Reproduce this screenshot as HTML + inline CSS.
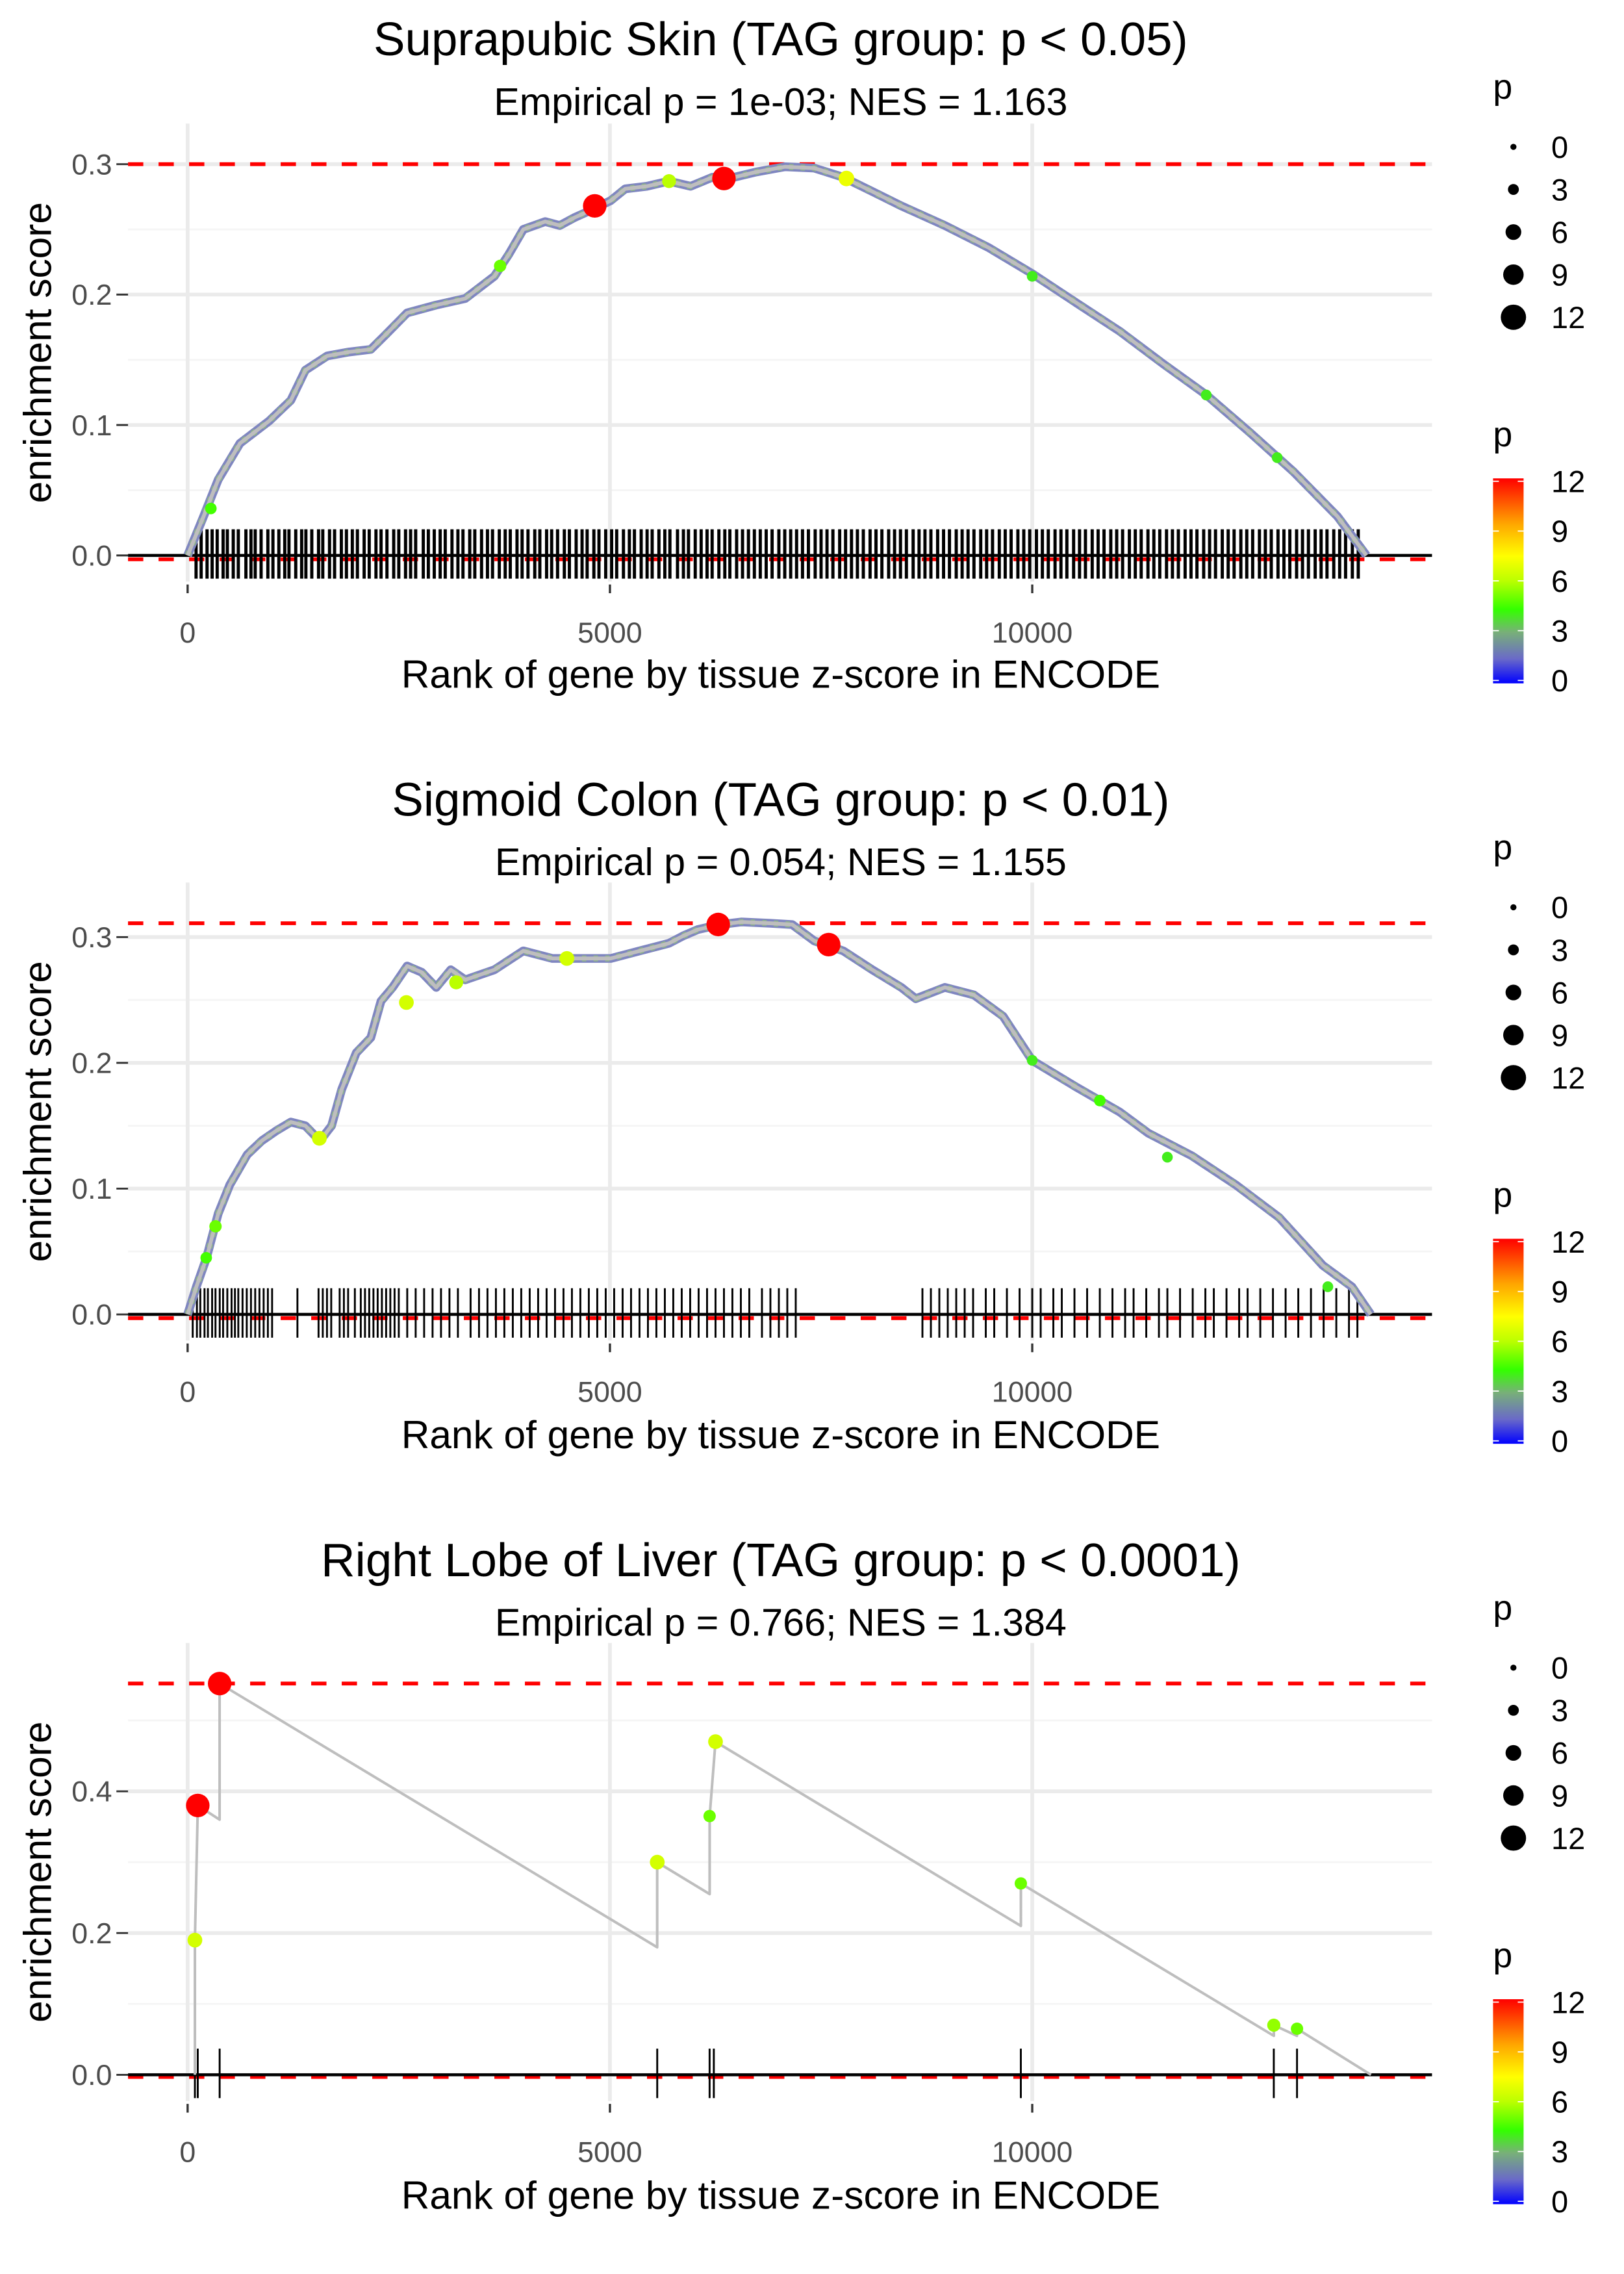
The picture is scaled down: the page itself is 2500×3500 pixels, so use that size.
<!DOCTYPE html>
<html><head><meta charset="utf-8">
<style>
html,body{margin:0;padding:0;background:#fff;}
svg{display:block;font-family:"Liberation Sans",sans-serif;}
</style></head>
<body>
<svg id="chart" width="2500" height="3500" viewBox="0 0 1117 1564" xmlns="http://www.w3.org/2000/svg">
<defs>
<linearGradient id="pgrad" x1="0" y1="1" x2="0" y2="0">
<stop offset="0" stop-color="#0000ff"/>
<stop offset="0.12" stop-color="#6a6ac8"/>
<stop offset="0.25" stop-color="#78b078"/>
<stop offset="0.36" stop-color="#33ff00"/>
<stop offset="0.5" stop-color="#bbff00"/>
<stop offset="0.62" stop-color="#ffff00"/>
<stop offset="0.78" stop-color="#ffa500"/>
<stop offset="1" stop-color="#ff0000"/>
</linearGradient>
</defs>
</svg>
<script>
// ---------- Panel 1 data ----------
const p1Rank=[0,189,361,620,964,1222,1394,1652,1910,2168,2341,2599,2943,3287,3631,3803,3975,4234,4406,4578,4750,5008,5180,5438,5697,5955,6213,6471,6729,7073,7418,7762,8106,8450,8966,9483,9999,10515,11032,11548,12064,12581,13097,13613,13957];
const p1ES=[0,0.030,0.058,0.086,0.103,0.119,0.142,0.153,0.156,0.158,0.169,0.186,0.192,0.197,0.214,0.231,0.250,0.256,0.253,0.259,0.264,0.272,0.281,0.283,0.287,0.283,0.290,0.290,0.294,0.298,0.297,0.290,0.279,0.268,0.253,0.236,0.216,0.194,0.172,0.147,0.123,0.094,0.064,0.030,0];
const p1PtRank=[275,3700,4820,5700,6350,7800,10000,12060,12900];
const p1PtES=[0.036,0.222,0.268,0.287,0.289,0.289,0.214,0.123,0.075];
const p1PtP=[4.5,5,12,6,12,7,4,4,4];
const p1Hits=[100,160,230,290,350,420,470,540,600,690,750,800,870,950,1010,1080,1150,1200,1280,1350,1400,1470,1550,1600,1680,1740,1820,1880,1950,2010,2090,2150,2230,2290,2360,2440,2500,2580,2640,2700,2790,2850,2920,2990,3050,3130,3200,3260,3340,3400,3480,3550,3610,3690,3760,3820,3900,3960,4030,4110,4170,4250,4310,4380,4460,4520,4600,4670,4730,4810,4870,4950,5020,5080,5160,5230,5290,5370,5440,5500,5580,5650,5710,5800,5870,5930,6010,6080,6150,6210,6290,6360,6420,6500,6570,6640,6710,6780,6850,6920,7000,7070,7140,7210,7280,7350,7430,7500,7570,7640,7720,7790,7860,7930,8000,8080,8150,8220,8300,8370,8440,8510,8590,8660,8730,8800,8880,8950,9020,9100,9170,9240,9310,9390,9460,9530,9610,9680,9750,9830,9900,9970,10050,10120,10190,10270,10340,10410,10490,10560,10630,10710,10780,10850,10930,11000,11070,11150,11220,11290,11370,11440,11510,11590,11660,11730,11810,11880,11950,12030,12100,12170,12250,12320,12390,12470,12540,12610,12690,12760,12830,12910,12980,13050,13130,13200,13270,13350,13420,13490,13570,13640,13710,13790,13860];
// ---------- Panel 2 data ----------
const p2Rank=[0,103,224,361,499,706,878,1050,1222,1394,1566,1704,1824,1996,2168,2289,2427,2599,2771,2943,3115,3287,3631,3975,4320,4664,5008,5352,5697,5869,6041,6299,6557,6901,7159,7418,7762,8106,8450,8622,8966,9310,9655,9999,10515,11032,11376,11892,12409,12925,13441,13785,14009];
const p2ES=[0,0.022,0.045,0.080,0.103,0.127,0.138,0.146,0.153,0.150,0.138,0.150,0.179,0.208,0.220,0.249,0.260,0.277,0.272,0.260,0.274,0.266,0.274,0.289,0.283,0.283,0.283,0.289,0.295,0.301,0.306,0.310,0.312,0.311,0.310,0.297,0.289,0.274,0.260,0.251,0.260,0.254,0.237,0.202,0.181,0.161,0.144,0.126,0.103,0.077,0.039,0.022,0];
const p2PtRank=[220,330,1560,2590,3180,4490,6282,7590,10000,10800,11600,13500];
const p2PtES=[0.045,0.070,0.140,0.248,0.264,0.283,0.310,0.294,0.202,0.170,0.125,0.022];
const p2PtP=[4.5,5,6.5,6.5,6,6.5,12,12,4,4.5,4,4];
const p2Hits=[60,110,150,200,240,290,330,380,420,470,520,560,600,650,700,750,800,850,900,950,1000,1300,1550,1600,1650,1700,1800,1850,1900,1980,2050,2100,2150,2200,2250,2300,2350,2400,2450,2500,2600,2700,2800,2900,3000,3100,3200,3350,3450,3550,3650,3750,3850,3950,4050,4150,4250,4350,4450,4550,4650,4750,4850,4950,5050,5150,5250,5350,5450,5550,5650,5750,5850,5950,6050,6150,6250,6350,6450,6550,6650,6800,6900,7000,7100,7200,8700,8800,8900,9000,9100,9200,9300,9450,9550,9700,9850,10000,10100,10250,10350,10500,10650,10800,10950,11100,11200,11350,11500,11600,11750,11900,12050,12150,12300,12450,12550,12700,12850,13000,13150,13300,13450,13600,13750,13850];
// ---------- Panel 3 data ----------
const p3Rank=[86,86,120,379,379,5560,5560,6180,6180,6250,9865,9865,12860,12860,13135,13135,14010];
const p3ES=[0,0.19,0.38,0.36,0.552,0.18,0.30,0.255,0.365,0.47,0.21,0.27,0.055,0.07,0.055,0.065,0];
const p3PtRank=[86,120,379,5560,6180,6250,9865,12860,13135];
const p3PtES=[0.19,0.38,0.552,0.30,0.365,0.47,0.27,0.07,0.065];
const p3PtP=[6.5,12,12,6.5,5,6.5,5,5.5,5];
const p3Hits=[86,120,379,5560,6180,6230,9865,12860,13135];
// ---------- Labels ----------
const titles=["Suprapubic Skin (TAG group: p < 0.05)","Sigmoid Colon (TAG group: p < 0.01)","Right Lobe of Liver (TAG group: p < 0.0001)"];
const subtitles=["Empirical p = 1e-03; NES = 1.163","Empirical p = 0.054; NES = 1.155","Empirical p = 0.766; NES = 1.384"];
const xTicks=[0,5000,10000];
const yTicks1=[0,0.1,0.2,0.3];
const yTicks3=[0,0.2,0.4];
const maxES=[0.3,0.311,0.552];
const minES=[-0.003,-0.003,-0.003];
const legendVals=[0,3,6,9,12];

const NS="http://www.w3.org/2000/svg";
const svg=document.getElementById('chart');
function mk(tag,attrs,parent){const e=document.createElementNS(NS,tag);for(const k in attrs)e.setAttribute(k,attrs[k]);(parent||svg).appendChild(e);return e;}
function pColor(p){
  const st=[[0,[0,0,255]],[1.44,[106,106,200]],[3,[120,176,120]],[4.3,[51,255,0]],[6,[187,255,0]],[7.4,[255,255,0]],[9.4,[255,165,0]],[12,[255,0,0]]];
  for(let i=1;i<st.length;i++){if(p<=st[i][0]){const a=st[i-1],b=st[i];const t=(p-a[0])/(b[0]-a[0]);const c=a[1].map((v,j)=>Math.round(v+(b[1][j]-v)*t));return `rgb(${c[0]},${c[1]},${c[2]})`;}}
  return 'rgb(255,0,0)';
}
function pRadius(p){return 1.5+p*0.55;}

const panels=[
 {y0:382,ppu:897,top:85,rank:p1Rank,es:p1ES,pr:p1PtRank,pe:p1PtES,pp:p1PtP,hits:p1Hits,yt:yTicks1,step:0.05,off:0,rw:2.2},
 {y0:904,ppu:865,top:607,rank:p2Rank,es:p2ES,pr:p2PtRank,pe:p2PtES,pp:p2PtP,hits:p2Hits,yt:yTicks1,step:0.05,off:523,rw:1.3},
 {y0:1427,ppu:487.5,top:1130,rank:p3Rank,es:p3ES,pr:p3PtRank,pe:p3PtES,pp:p3PtP,hits:p3Hits,yt:yTicks3,step:0.1,off:1046,rw:1.3}
];
const X0=129, XS=290.5/5000, PL=88, PR=985;
function xs(r){return X0+r*XS;}

panels.forEach((P,i)=>{
  const g=mk('g',{});
  
  
  const ys=v=>P.y0-v*P.ppu;
  const bottom=P.y0+18;
  const maxT=Math.max(...P.yt)+P.step*1.2;
  for(let v=P.step;v<maxT;v+=P.step*2){ if(ys(v)>P.top){const l=mk('line',{x1:PL,x2:PR,y1:ys(v),y2:ys(v),stroke:'#f5f5f5','stroke-width':1.3},g);}}
  P.yt.forEach(v=>{
    const l=mk('line',{x1:PL,x2:PR,y1:ys(v),y2:ys(v),stroke:'#ebebeb','stroke-width':2.6},g);
    
    const tk=mk('line',{x1:80,x2:88,y1:ys(v),y2:ys(v),stroke:'#333','stroke-width':1.3},g);
    
    const t=mk('text',{x:77,y:ys(v)+7,'text-anchor':'end','font-size':20,fill:'#4d4d4d'},g);
    t.textContent=v.toFixed(1);
    
  });
  xTicks.forEach(r=>{
    const l=mk('line',{x1:xs(r),x2:xs(r),y1:P.top,y2:bottom,stroke:'#ebebeb','stroke-width':2.6},g);
    
    const tk=mk('line',{x1:xs(r),x2:xs(r),y1:bottom+2,y2:bottom+8,stroke:'#333','stroke-width':1.5},g);
    
    const t=mk('text',{x:xs(r),y:P.y0+60,'text-anchor':'middle','font-size':20,fill:'#4d4d4d'},g);
    t.textContent=String(r);
    
  });
  [maxES[i],minES[i]].forEach(v=>{
    const l=mk('line',{x1:PL,x2:PR,y1:ys(v),y2:ys(v),stroke:'#ff0000','stroke-width':2.6,'stroke-dasharray':'10.5 10.5'},g);
    
  });
  P.hits.forEach(h=>{
    const l=mk('line',{x1:xs(h),x2:xs(h),y1:P.y0-18,y2:P.y0+16,stroke:'#000','stroke-width':P.rw},g);
    
  });
  const z=mk('line',{x1:PL,x2:PR,y1:ys(0),y2:ys(0),stroke:'#000','stroke-width':2},g);
  
  const d=P.rank.map((r,k)=>(k?'L':'M')+xs(r).toFixed(1)+','+ys(P.es[k]).toFixed(1)).join(' ');
  if(i<2){
    const c0=mk('path',{d:d,fill:'none',stroke:'#7f86c0','stroke-width':6,'stroke-linejoin':'round'},g);
    
    const c1=mk('path',{d:d,fill:'none',stroke:'#8cb08c','stroke-width':4.2,'stroke-linejoin':'round','stroke-dasharray':'3 5'},g);
    
  }
  const c=mk('path',{d:d,fill:'none',stroke:'#bebebe','stroke-width':(i<2?2.6:1.8),'stroke-linejoin':'round'},g);
  
  P.pr.forEach((r,k)=>{
    const p=P.pp[k];
    const ci=mk('circle',{cx:xs(r),cy:ys(P.pe[k]),r:pRadius(p),fill:pColor(p)},g);
    
  });
  const t1=mk('text',{x:537,y:P.off+38,'text-anchor':'middle','font-size':32.5,fill:'#000'},g);
  t1.textContent=titles[i];
  const t2=mk('text',{x:537,y:P.off+79,'text-anchor':'middle','font-size':26.5,fill:'#000'},g);
  t2.textContent=subtitles[i];
  const xl=mk('text',{x:537,y:P.off+473,'text-anchor':'middle','font-size':27,fill:'#000'},g);
  xl.textContent='Rank of gene by tissue z-score in ENCODE';
  const yc=(P.top+bottom)/2;
  const yl=mk('text',{x:35,y:yc,'text-anchor':'middle','font-size':27,fill:'#000',transform:`rotate(-90 35 ${yc})`},g);
  yl.textContent='enrichment score';
  const lg=mk('g',{},g);
  
  const lp=mk('text',{x:1027,y:P.off+68,'font-size':24,fill:'#000'},lg);lp.textContent='p';
  
  legendVals.forEach((v,k)=>{
    const cy=P.off+101+k*29.3;
    const ci=mk('circle',{cx:1041,cy:cy,r:pRadius(v)+0.6,fill:'#000'},lg);
    
    const t=mk('text',{x:1067,y:cy+7.5,'font-size':21,fill:'#000'},lg);t.textContent=String(v);
    
  });
  const cg=mk('g',{},g);
  
  const cp=mk('text',{x:1027,y:P.off+307,'font-size':24,fill:'#000'},cg);cp.textContent='p';
  
  const cb0=P.off+329, cb1=P.off+470;
  const rb=mk('rect',{x:1027,y:cb0,width:21,height:cb1-cb0,fill:'url(#pgrad)'},cg);
  
  legendVals.forEach(v=>{
    const yy=cb1-2-(v/12)*(cb1-cb0-4);
    mk('line',{x1:1027,x2:1031,y1:yy,y2:yy,stroke:'#fff','stroke-width':0.8},cg);
    mk('line',{x1:1044,x2:1048,y1:yy,y2:yy,stroke:'#fff','stroke-width':0.8},cg);
    const t=mk('text',{x:1067,y:yy+7.5,'font-size':21,fill:'#000'},cg);t.textContent=String(v);
    
  });
});
</script>
</body></html>
